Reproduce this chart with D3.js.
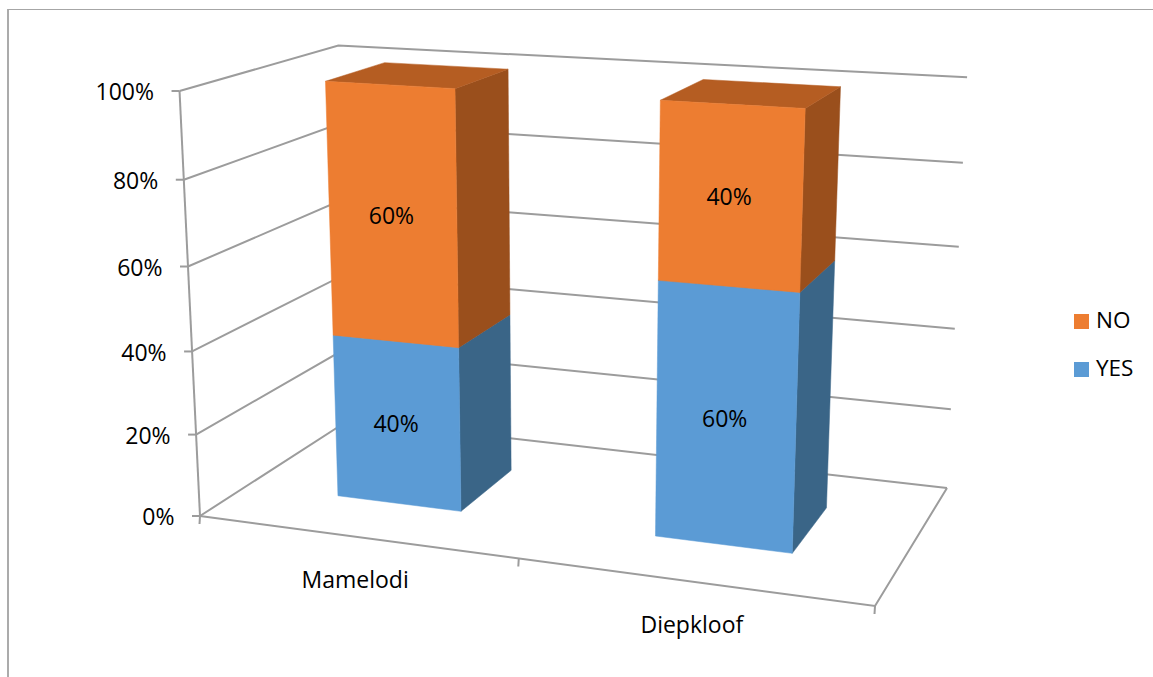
<!DOCTYPE html>
<html><head><meta charset="utf-8">
<script src="https://d3js.org/d3.v7.min.js"></script>
<style>html,body{margin:0;background:#fff}svg{display:block}text{font-family:"Open Sans",sans-serif;fill:#000}</style>
</head><body><svg id="c" width="1153" height="677"></svg>
<script>
const categories=["Mamelodi","Diepkloof"];
const seriesNames=["YES","NO"];
const yesValues=[0.4,0.6];
const noValues=[0.6,0.4];
const tickValues=[0,0.2,0.4,0.6,0.8,1];
const colors={YES:{front:"#5B9BD5",side:"#3A6587",top:"#4A7FAE"},NO:{front:"#ED7D31",side:"#9A4F1C",top:"#B55D22"}};
const gridColor="#9C9C9C";
const fontSize=23;

// camera: floor corners, vertical vanishing point, top of the front-left edge
const A=[200,516],B=[875,606],C=[947,488],D=[349,420],VP=[570,8200],topY=91;
const dx1=B[0]-C[0],dx2=D[0]-C[0],sx=A[0]-B[0]+C[0]-D[0],dy1=B[1]-C[1],dy2=D[1]-C[1],sy=A[1]-B[1]+C[1]-D[1];
const den=dx1*dy2-dx2*dy1,g=(sx*dy2-dx2*sy)/den,h=(dx1*sy-sx*dy1)/den;
const a=B[0]-A[0]+g*B[0],b=D[0]-A[0]+h*D[0],d=B[1]-A[1]+g*B[1],e=D[1]-A[1]+h*D[1];
const k=-(A[1]-topY)/(VP[1]-topY);
function project(u,w,v){
  const W=g*u+h*w+1+k*v;
  return [(a*u+b*w+A[0]+k*VP[0]*v)/W,(d*u+e*w+A[1]+k*VP[1]*v)/W];
}
const xScale=d3.scaleBand().domain(categories).range([0,1]).paddingInner(0.6).paddingOuter(0.3);
const depth=d3.scaleBand().domain(["only"]).range([0.3,0.7]);
const yScale=d3.scaleLinear().domain([0,1]).range([0,1]);
const fmt=d3.format(".0%");
const svg=d3.select("#c");
const line=d3.line();

// outer frame
svg.append("line").attr("x1",8).attr("x2",8).attr("y1",9).attr("y2",677).attr("stroke","#ABABAB").attr("stroke-width",2);
svg.append("line").attr("x1",8).attr("x2",1153).attr("y1",9.5).attr("y2",9.5).attr("stroke","#A6A6A6").attr("stroke-width",1);

const grid=svg.append("g").attr("fill","none").attr("stroke",gridColor).attr("stroke-width",2);
tickValues.forEach(t=>{
  const v=yScale(t);
  grid.append("path").attr("d",line([project(0,0,v),project(0,1,v),project(1,1,v)]));
  const p=project(0,0,v);
  grid.append("path").attr("d",line([p,[p[0]-8,p[1]]]));
  svg.append("text").attr("x",p[0]-25.5).attr("y",p[1]+1).attr("dy","0.35em").attr("text-anchor","end").attr("font-size",fontSize).text(fmt(t));
});
grid.append("path").attr("d",line([project(0,0,0),project(0,0,1)]));
grid.append("path").attr("d",line([project(0,0,0),project(1,0,0),project(1,1,0)]));
[0,0.5,1].forEach(u=>{const p=project(u,0,0);grid.append("path").attr("d",line([p,[p[0]-0.5,p[1]+8]]));});

// bars
const z0=depth("only"),z1=z0+depth.bandwidth();
categories.forEach((cat,i)=>{
  const u0=xScale(cat),u1=u0+xScale.bandwidth();
  let base=0;
  [["YES",yesValues[i]],["NO",noValues[i]]].forEach(([name,val])=>{
    const v0=yScale(base),v1=yScale(base+val),col=colors[name];
    const poly=(pts,f)=>svg.append("path").attr("d",line(pts)+"Z").attr("fill",f).attr("stroke",f).attr("stroke-width",0.5);
    poly([project(u1,z0,v0),project(u1,z1,v0),project(u1,z1,v1),project(u1,z0,v1)],col.side);
    poly([project(u0,z0,v1),project(u1,z0,v1),project(u1,z1,v1),project(u0,z1,v1)],col.top);
    poly([project(u0,z0,v0),project(u1,z0,v0),project(u1,z0,v1),project(u0,z0,v1)],col.front);
    base+=val;
  });
});
// data labels
categories.forEach((cat,i)=>{
  const um=xScale(cat)+xScale.bandwidth()/2;
  let base=0;
  [yesValues[i],noValues[i]].forEach(val=>{
    const p=project(um,z0,yScale(base+val/2));
    svg.append("text").attr("x",p[0]-1).attr("y",p[1]+1).attr("dy","0.35em").attr("text-anchor","middle").attr("font-size",fontSize).text(fmt(val));
    base+=val;
  });
  const q=project(um,0,0);
  svg.append("text").attr("x",q[0]).attr("y",q[1]+43).attr("dy","0.35em").attr("text-anchor","middle").attr("font-size",fontSize).text(cat);
});
// legend
const legY=d3.scalePoint().domain(["NO","YES"]).range([321.5,369.5]);
["NO","YES"].forEach(n=>{
  svg.append("rect").attr("x",1074).attr("y",legY(n)-7.5).attr("width",15).attr("height",15).attr("fill",colors[n].front);
  svg.append("text").attr("x",1096).attr("y",legY(n)-1).attr("dy","0.35em").attr("font-size",fontSize-0.5).text(n);
});
</script></body></html>
